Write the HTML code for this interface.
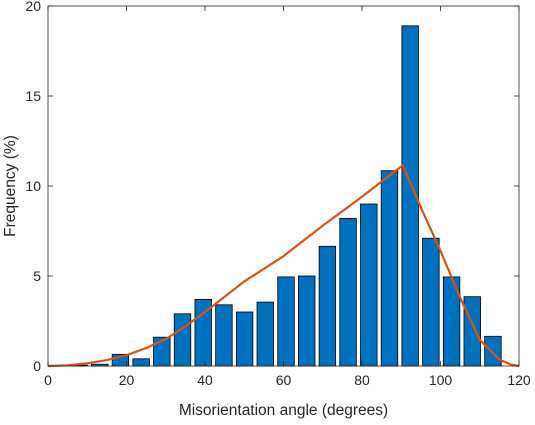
<!DOCTYPE html>
<html><head><meta charset="utf-8"><style>
body{margin:0;background:#fff;}
svg text{font-family:"Liberation Sans",sans-serif;fill:#262626;}
</style></head><body>
<svg id="chart" width="535" height="420" xmlns="http://www.w3.org/2000/svg"></svg>
<script>
const binCenters=[2.64,7.91,13.18,18.45,23.73,29.0,34.27,39.55,44.82,50.09,55.36,60.64,65.91,71.18,76.45,81.73,87.0,92.27,97.55,102.82,108.09,113.36];
const binValues=[0,0.05,0.1,0.65,0.4,1.6,2.9,3.7,3.4,3.0,3.55,4.95,5.0,6.65,8.2,9.0,10.85,18.9,7.1,4.95,3.85,1.65];
const curveX=[0,5,10,15,20,25,30,35,40,45,50,55,60,65,70,75,80,85,90.4,95,100,105,110,115,118,120];
const curveY=[0,0.04,0.15,0.33,0.6,1.0,1.5,2.2,3.0,3.85,4.7,5.4,6.1,6.95,7.8,8.6,9.4,10.25,11.15,8.8,6.4,3.8,1.45,0.35,0.08,0];
const xTicks=[0,20,40,60,80,100,120];
const yTicks=[0,5,10,15,20];
const binWidth=5.27;
const NS="http://www.w3.org/2000/svg";
const svg=document.getElementById('chart');
const L=48,R=519,T=6,B=366;
const xs=v=>L+(v-0)/(120-0)*(R-L);
const ys=v=>B-(v/20)*(B-T);
function mk(tag,attrs,parent){const e=document.createElementNS(NS,tag);for(const k in attrs)e.setAttribute(k,attrs[k]);(parent||svg).appendChild(e);return e;}
const plot=mk('rect',{x:L,y:T,width:R-L,height:B-T,fill:'#fff',stroke:'none'});


const gBars=mk('g',{});


binCenters.forEach((c,i)=>{
  const w=(xs(binWidth)-xs(0))*0.8;
  const r=mk('rect',{x:xs(c)-w/2,y:ys(binValues[i]),width:w,height:B-ys(binValues[i]),fill:'#0072BD',stroke:'#000','stroke-width':0.8},gBars);
  
  
});
const pts=curveX.map((x,i)=>xs(x).toFixed(1)+','+ys(curveY[i]).toFixed(1)).join(' ');
const line=mk('polyline',{points:pts,fill:'none',stroke:'#D95319','stroke-width':2.2,'stroke-linejoin':'round'});


const box=mk('rect',{x:L,y:T,width:R-L,height:B-T,fill:'none',stroke:'#262626','stroke-width':0.8});


xTicks.forEach(t=>{
  const x=xs(t);
  mk('line',{x1:x,x2:x,y1:B,y2:B-5,stroke:'#262626','stroke-width':0.8});
  mk('line',{x1:x,x2:x,y1:T,y2:T+5,stroke:'#262626','stroke-width':0.8});
  const tx=mk('text',{x:x,y:B+19,'text-anchor':'middle','font-size':14});
  tx.textContent=t;
  
  
});
yTicks.forEach(t=>{
  const y=ys(t);
  mk('line',{x1:L,x2:L+5,y1:y,y2:y,stroke:'#262626','stroke-width':0.8});
  mk('line',{x1:R,x2:R-5,y1:y,y2:y,stroke:'#262626','stroke-width':0.8});
  const tx=mk('text',{x:L-7,y:y+5,'text-anchor':'end','font-size':14});
  tx.textContent=t;
  
  
});
const xt=mk('text',{x:(L+R)/2,y:415,'text-anchor':'middle','font-size':15.5});
xt.textContent='Misorientation angle (degrees)';


const yt=mk('text',{x:0,y:0,'text-anchor':'middle','font-size':15.5,transform:'translate(15,'+((T+B)/2)+') rotate(-90)'});
yt.textContent='Frequency (%)';


</script>
</body></html>
